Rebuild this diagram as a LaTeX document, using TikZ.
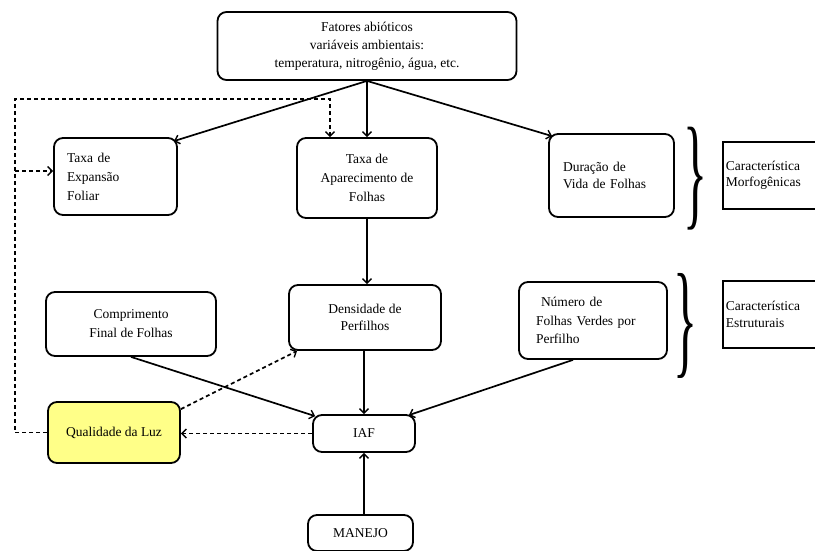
\documentclass[tikz,border=0pt]{standalone}
\usepackage{fontspec}
\setmainfont{Liberation Serif}
\usepackage{graphicx}
\usetikzlibrary{arrows.meta,calc}
\definecolor{luz}{HTML}{FFFF88}
\begin{document}
\begin{tikzpicture}[x=1pt,y=-1pt,
  box/.style={draw,line width=1.8pt,rounded corners=9pt,inner sep=0pt},
  sbox/.style={draw,line width=1.8pt,inner ysep=0pt,inner xsep=3pt},
  arr/.style={line width=1.7pt,-{Straight Barb[length=4.5pt,width=9pt,line width=1.4pt]}},
  darr/.style={arr,dash pattern=on 4pt off 3pt},
  font=\fontsize{13.5}{17}\selectfont]
\clip (0,0) rectangle (815,550);
\fill[white] (0,0) rectangle (815,550);

\node[box, minimum width=299pt, minimum height=68pt, align=center,
      font=\fontsize{13.5}{18}\selectfont] (top) at (367,46)
  {Fatores abióticos\\variáveis ambientais:\\temperatura, nitrogênio, água, etc.};

\node[box, minimum width=123pt, minimum height=77pt, text width=97pt, align=left,
      font=\fontsize{13.5}{19}\selectfont] (tef) at (115.5,176.5)
  {Taxa de\\Expansão\\Foliar};

\node[box, minimum width=140pt, minimum height=80pt, align=center,
      font=\fontsize{13.5}{19}\selectfont] (tap) at (367,178)
  {Taxa de\\Aparecimento de\\Folhas};

\node[box, minimum width=125pt, minimum height=83pt, text width=97pt, align=left,
      font=\fontsize{13.5}{16.5}\selectfont] (dvf) at (611.5,175.5)
  {Duração de\\Vida de Folhas};

\node[sbox, anchor=west, minimum height=67pt, text width=104pt, align=left,
      font=\fontsize{13.5}{16.5}\selectfont] (cm) at (722,175.5)
  {Característica\\Morfogênicas};

\node[inner sep=0pt] (b1) at (695,178.5) {\resizebox*{24pt}{103pt}{\}}};

\node[box, minimum width=170pt, minimum height=64pt, align=center,
      font=\fontsize{13.5}{19}\selectfont] (cff) at (131,324)
  {Comprimento\\Final de Folhas};

\node[box, minimum width=152pt, minimum height=65pt, align=center,
      font=\fontsize{13.5}{17.5}\selectfont] (dp) at (365,317.5)
  {Densidade de\\Perfilhos};

\node[box, minimum width=148pt, minimum height=77pt, text width=114pt, align=left,
      font=\fontsize{13.5}{18.5}\selectfont] (nfv) at (593,320.5)
  {\hspace*{5pt}Número de\\Folhas Verdes por\\Perfilho};

\node[sbox, anchor=west, minimum height=67pt, text width=104pt, align=left,
      font=\fontsize{13.5}{17.5}\selectfont] (ce) at (722,314.5)
  {Característica\\Estruturais};

\node[inner sep=0pt] (b2) at (685,325.5) {\resizebox*{24pt}{105pt}{\}}};

\node[box, fill=luz, minimum width=132pt, minimum height=61pt] (ql) at (114,432.5)
  {Qualidade da Luz};

\node[box, minimum width=102pt, minimum height=37pt] (iaf) at (364,433.5) {IAF};

\node[box, minimum width=105pt, minimum height=36pt] (man) at (360.5,533) {MANEJO};

% solid arrows
\draw[arr] (top.south) -- ($(tef.north east)+(-4,4)$);
\draw[arr] (top.south) -- (tap.north);
\draw[arr] (top.south) -- ($(dvf.north west)+(4,3)$);
\draw[arr] (tap.south) -- (tap.south |- dp.north);
\draw[arr] (dp.south -| iaf.north) -- (iaf.north);
\draw[arr] (cff.south) -- ($(iaf.north west)+(3,2)$);
\draw[arr] ($(nfv.south)+(-20,0)$) -- ($(iaf.north east)+(-7,1)$);
\draw[arr] (man.north -| iaf.south) -- (iaf.south);

% dashed arrows
\coordinate (c1) at (15,99);
\coordinate (c2) at (15,171);
\draw[darr] (ql.west) -| (c1) -| ($(tap.north)+(-37,0)$);
\draw[darr] (c2) -- (c2 -| tef.west);
\draw[darr] ($(ql.north east)+(0,8)$) -- ($(dp.south west)+(9,0)$);
\draw[darr] (iaf.west) -- (iaf.west -| ql.east);
\end{tikzpicture}
\end{document}
